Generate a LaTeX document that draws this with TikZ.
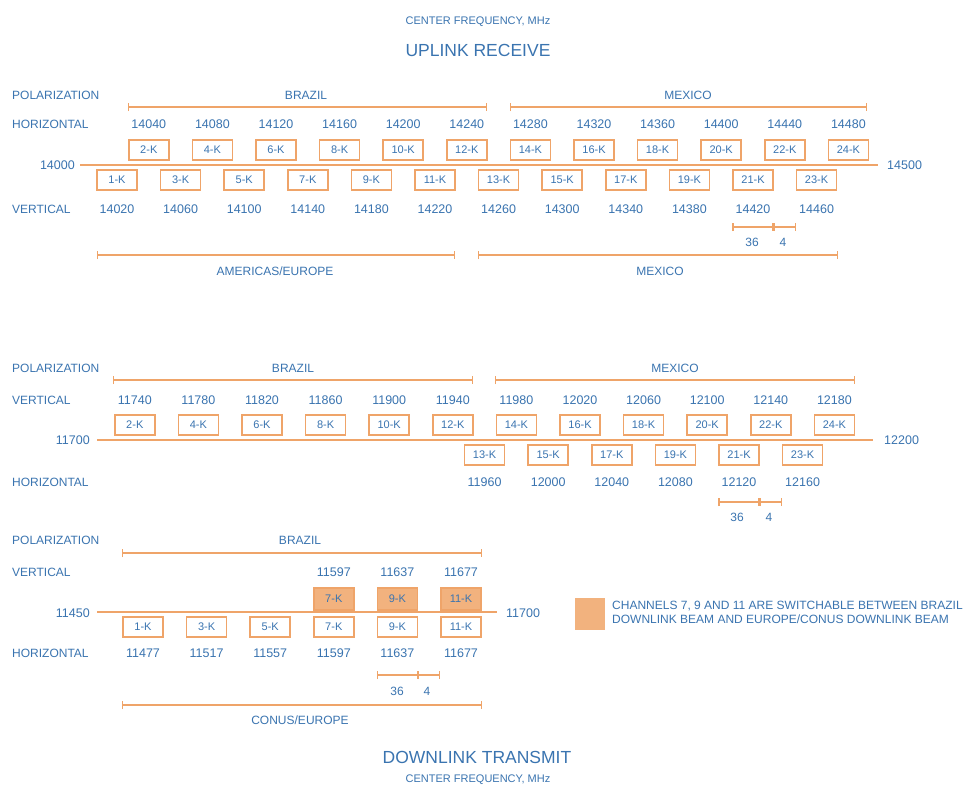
\documentclass[tikz,border=0pt]{standalone}
\usepackage{fontspec}
\setmainfont{Liberation Sans}
\usetikzlibrary{arrows.meta}
\definecolor{orng}{HTML}{EFA469}
\definecolor{orngfill}{HTML}{F2B27E}
\definecolor{txtblue}{HTML}{3A74B0}
\begin{document}
\begin{tikzpicture}[x=1pt,y=-1pt,
  lbl/.style={font=\fontsize{12}{14}\selectfont, text=txtblue, inner sep=0pt},
  num/.style={font=\fontsize{12.5}{14}\selectfont, text=txtblue, inner sep=0pt},
  chbox/.style={draw=orng, line width=1.5pt, minimum width=40pt, minimum height=20pt, inner sep=0pt, font=\fontsize{11}{12}\selectfont, text=txtblue, fill=white},
  fbox/.style={chbox, fill=orngfill, minimum height=22pt},
  mline/.style={draw=orng, line width=2.2pt},
  brk/.style={draw=orng, line width=1.3pt, {Bar[width=8pt,line width=1.3pt]}-{Bar[width=8pt,line width=1.3pt]}},
  ttl/.style={font=\fontsize{17.5}{20}\selectfont, text=txtblue, inner sep=0pt},
  subttl/.style={font=\fontsize{11}{13}\selectfont, text=txtblue, inner sep=0pt}
]
\useasboundingbox[fill=white] (0,0) rectangle (966,792);

% ================= SECTION 1: UPLINK RECEIVE =================
\node[subttl] (t1a) at (478,22) {CENTER FREQUENCY, MHz};
\node[ttl] (t1b) at (478,50) {UPLINK RECEIVE};

\node[lbl, anchor=west] (p1) at (12,95) {POLARIZATION};
\node[lbl, anchor=west] (h1) at (12,124) {HORIZONTAL};
\node[lbl, anchor=west] (v1) at (12,209) {VERTICAL};

\coordinate (b1a) at (128,107); \coordinate (b1b) at (487,107);
\coordinate (m1a) at (510,107); \coordinate (m1b) at (867,107);
\draw[brk] (b1a) -- (b1b);
\draw[brk] (m1a) -- (m1b);
\node[lbl] (b1lab) at (306,95) {BRAZIL};
\node[lbl] (m1lab) at (688,95) {MEXICO};

\node[num, anchor=east] (f1l) at (75,165) {14000};
\node[num, anchor=west] (f1r) at (887,165) {14500};
\coordinate (l1a) at (80,165); \coordinate (l1b) at (878,165);
\draw[mline] (l1a) -- (l1b);

\foreach \n in {2,4,...,24}{
  \pgfmathsetmacro\xx{117+(\n-1)*31.8}
  \pgfmathtruncatemacro\ff{14020+(\n-1)*20}
  \node[chbox] (s1c\n) at (\xx,150) {\n-K};
  \node[num] (s1f\n) at (\xx,124) {\ff};
}
\foreach \n in {1,3,...,23}{
  \pgfmathsetmacro\xx{117+(\n-1)*31.8}
  \pgfmathtruncatemacro\ff{14020+(\n-1)*20}
  \node[chbox] (s1c\n) at (\xx,180) {\n-K};
  \node[num] (s1f\n) at (\xx,209) {\ff};
}

\coordinate (d1a) at (s1c21.west |- 0,227);
\coordinate (d1b) at (s1c21.east |- 0,227);
\coordinate (d1c) at (s1c23.west |- 0,227);
\draw[brk] (d1a) -- (d1b);
\draw[brk] (d1b) -- (d1c);
\node[lbl] (d1l1) at (752,242) {36};
\node[lbl] (d1l2) at (783,242) {4};

\coordinate (a1a) at (97,255); \coordinate (a1b) at (455,255);
\coordinate (x1a) at (478,255); \coordinate (x1b) at (838,255);
\draw[brk] (a1a) -- (a1b);
\draw[brk] (x1a) -- (x1b);
\node[lbl] (a1lab) at (275,271) {AMERICAS/EUROPE};
\node[lbl] (x1lab) at (660,271) {MEXICO};

% ================= SECTION 2 =================
\node[lbl, anchor=west] (p2) at (12,368) {POLARIZATION};
\node[lbl, anchor=west] (v2) at (12,400) {VERTICAL};
\node[lbl, anchor=west] (h2) at (12,482) {HORIZONTAL};

\coordinate (b2a) at (113,380); \coordinate (b2b) at (473,380);
\coordinate (m2a) at (495,380); \coordinate (m2b) at (855,380);
\draw[brk] (b2a) -- (b2b);
\draw[brk] (m2a) -- (m2b);
\node[lbl] (b2lab) at (293,368) {BRAZIL};
\node[lbl] (m2lab) at (675,368) {MEXICO};

\node[num, anchor=east] (f2l) at (90,440) {11700};
\node[num, anchor=west] (f2r) at (884,440) {12200};
\coordinate (l2a) at (97,440); \coordinate (l2b) at (873,440);
\draw[mline] (l2a) -- (l2b);

\foreach \n in {2,4,...,24}{
  \pgfmathsetmacro\xx{103+(\n-1)*31.8}
  \pgfmathtruncatemacro\ff{11720+(\n-1)*20}
  \node[chbox] (s2c\n) at (\xx,425) {\n-K};
  \node[num] (s2f\n) at (\xx,400) {\ff};
}
\foreach \n in {13,15,...,23}{
  \pgfmathsetmacro\xx{103+(\n-1)*31.8}
  \pgfmathtruncatemacro\ff{11720+(\n-1)*20}
  \node[chbox] (s2c\n) at (\xx,455) {\n-K};
  \node[num] (s2f\n) at (\xx,482) {\ff};
}

\coordinate (d2a) at (s2c21.west |- 0,502);
\coordinate (d2b) at (s2c21.east |- 0,502);
\coordinate (d2c) at (s2c23.west |- 0,502);
\draw[brk] (d2a) -- (d2b);
\draw[brk] (d2b) -- (d2c);
\node[lbl] (d2l1) at (737,517) {36};
\node[lbl] (d2l2) at (769,517) {4};

% ================= SECTION 3: DOWNLINK TRANSMIT =================
\node[lbl, anchor=west] (p3) at (12,540) {POLARIZATION};
\node[lbl, anchor=west] (v3) at (12,572) {VERTICAL};
\node[lbl, anchor=west] (h3) at (12,653) {HORIZONTAL};

\coordinate (b3a) at (122,553); \coordinate (b3b) at (482,553);
\draw[brk] (b3a) -- (b3b);
\node[lbl] (b3lab) at (300,540) {BRAZIL};

\node[num, anchor=east] (f3l) at (90,613) {11450};
\node[num, anchor=west] (f3r) at (506,613) {11700};
\coordinate (l3a) at (97,612); \coordinate (l3b) at (497,612);
\draw[mline] (l3a) -- (l3b);

\foreach \n in {7,9,11}{
  \pgfmathsetmacro\xx{143+(\n-1)*31.8}
  \pgfmathtruncatemacro\ff{11477+(\n-1)*20}
  \node[fbox] (s3t\n) at (\xx,599) {\n-K};
  \node[num] (s3g\n) at (\xx,572) {\ff};
}
\foreach \n in {1,3,...,11}{
  \pgfmathsetmacro\xx{143+(\n-1)*31.8}
  \pgfmathtruncatemacro\ff{11477+(\n-1)*20}
  \node[chbox] (s3c\n) at (\xx,627) {\n-K};
  \node[num] (s3f\n) at (\xx,653) {\ff};
}

\coordinate (d3a) at (s3c9.west |- 0,675);
\coordinate (d3b) at (s3c9.east |- 0,675);
\coordinate (d3c) at (s3c11.west |- 0,675);
\draw[brk] (d3a) -- (d3b);
\draw[brk] (d3b) -- (d3c);
\node[lbl] (d3l1) at (397,691) {36};
\node[lbl] (d3l2) at (427,691) {4};

\coordinate (c3a) at (122,705); \coordinate (c3b) at (482,705);
\draw[brk] (c3a) -- (c3b);
\node[lbl] (c3lab) at (300,720) {CONUS/EUROPE};

\node[ttl] (t3a) at (477,757) {DOWNLINK TRANSMIT};
\node[subttl] (t3b) at (478,780) {CENTER FREQUENCY, MHz};

% legend
\node[draw=orngfill, fill=orngfill, minimum width=29pt, minimum height=31pt, inner sep=0pt] (leg) at (590,614) {};
\node[lbl, anchor=west, align=left, font=\fontsize{12}{14}\selectfont] (legt) at (612,612)
  {CHANNELS 7, 9 AND 11 ARE SWITCHABLE BETWEEN BRAZIL\\DOWNLINK BEAM AND EUROPE/CONUS DOWNLINK BEAM};
\end{tikzpicture}
\end{document}
